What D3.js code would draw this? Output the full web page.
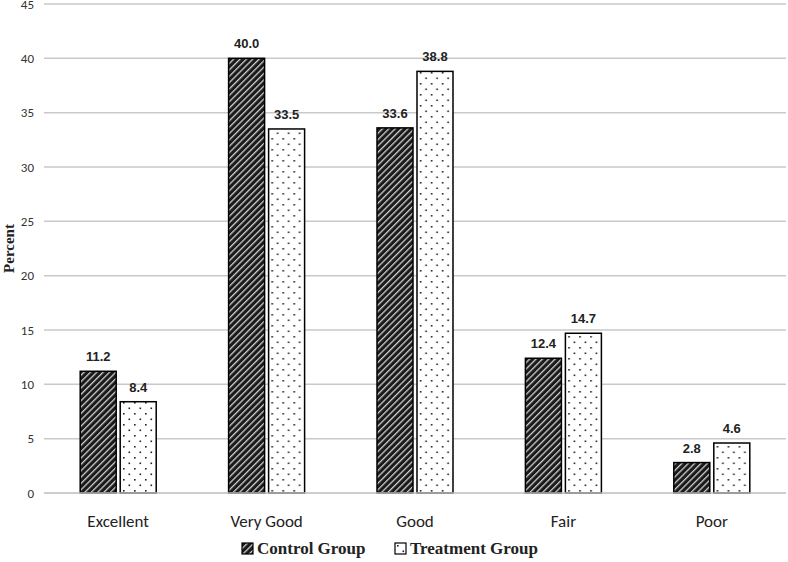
<!DOCTYPE html>
<html>
<head>
<meta charset="utf-8">
<title>Self-rated health</title>
<script src="https://cdn.jsdelivr.net/npm/d3@7"></script>
<style>
  body { margin: 0; background: #fff; }
</style>
</head>
<body>
<div id="chart"></div>
<script>
// data
var categories = ["Excellent", "Very Good", "Good", "Fair", "Poor"];
var groups = ["Control Group", "Treatment Group"];
var controlValues = [11.2, 40.0, 33.6, 12.4, 2.8];
var treatmentValues = [8.4, 33.5, 38.8, 14.7, 4.6];
var yTicks = [0, 5, 10, 15, 20, 25, 30, 35, 40, 45];

var W = 788, H = 562;
var margin = { top: 4, right: 2, bottom: 69, left: 44 };
var width = W - margin.left - margin.right;
var height = H - margin.top - margin.bottom;

var svg = d3.select("#chart").append("svg")
  .attr("width", W).attr("height", H);

// patterns
var defs = svg.append("defs");
var hatch = defs.append("pattern")
  .attr("id", "hatch").attr("patternUnits", "userSpaceOnUse")
  .attr("width", 4.5).attr("height", 4.5)
  .attr("patternTransform", "rotate(45)");
hatch.append("rect").attr("width", 4.5).attr("height", 4.5).attr("fill", "#1a1a1a");
hatch.append("rect").attr("x", 0).attr("width", 1.3).attr("height", 4.5).attr("fill", "#d0d0d0");

var dots = defs.append("pattern")
  .attr("id", "dots").attr("patternUnits", "userSpaceOnUse")
  .attr("width", 11).attr("height", 11);
dots.append("rect").attr("width", 11).attr("height", 11).attr("fill", "#fff");
dots.append("rect").attr("x", 2).attr("y", 2).attr("width", 1.6).attr("height", 1.6).attr("fill", "#222");
dots.append("rect").attr("x", 7.5).attr("y", 7.5).attr("width", 1.6).attr("height", 1.6).attr("fill", "#222");

var g = svg.append("g")
  .attr("transform", "translate(" + margin.left + "," + margin.top + ")");

var x = d3.scaleBand().domain(categories).range([0, width]);
var xInner = d3.scaleBand().domain(groups).range([x.bandwidth() / 2 - 38, x.bandwidth() / 2 + 38]).paddingInner(0.1);
var y = d3.scaleLinear().domain([0, 45]).range([height, 0]);

// gridlines
g.append("g").selectAll("line")
  .data(yTicks.slice(1))
  .enter().append("line")
  .attr("x1", 0).attr("x2", width)
  .attr("y1", function (d) { return y(d); })
  .attr("y2", function (d) { return y(d); })
  .attr("stroke", "#c9c9c9").attr("stroke-width", 1.5);

// y tick labels
g.append("g").selectAll("text")
  .data(yTicks)
  .enter().append("text")
  .attr("x", -10)
  .attr("y", function (d) { return y(d); })
  .attr("dy", "0.35em")
  .attr("text-anchor", "end")
  .attr("font-family", "Carlito, 'Open Sans', sans-serif")
  .attr("font-size", 13)
  .attr("fill", "#333")
  .text(function (d) { return d; });

// bars
var rows = categories.map(function (c, i) {
  return { cat: c, vals: [
    { group: groups[0], v: controlValues[i], fill: "url(#hatch)" },
    { group: groups[1], v: treatmentValues[i], fill: "url(#dots)" }
  ] };
});

var cat = g.selectAll(".cat")
  .data(rows)
  .enter().append("g")
  .attr("class", "cat")
  .attr("transform", function (d) { return "translate(" + x(d.cat) + ",0)"; });

cat.selectAll("rect")
  .data(function (d) { return d.vals; })
  .enter().append("rect")
  .attr("x", function (d) { return xInner(d.group); })
  .attr("y", function (d) { return y(d.v); })
  .attr("width", xInner.bandwidth())
  .attr("height", function (d) { return height - y(d.v); })
  .attr("fill", function (d) { return d.fill; })
  .attr("stroke", "#000").attr("stroke-width", 1.5);

cat.selectAll(".val")
  .data(function (d) { return d.vals; })
  .enter().append("text")
  .attr("class", "val")
  .attr("x", function (d) { return xInner(d.group) + xInner.bandwidth() / 2; })
  .attr("y", function (d) { return y(d.v) - 10; })
  .attr("text-anchor", "middle")
  .attr("font-family", "Liberation Sans, Arial, sans-serif")
  .attr("font-weight", "bold")
  .attr("font-size", 13)
  .attr("fill", "#222")
  .text(function (d) { return d.v.toFixed(1); });

// baseline
g.append("line")
  .attr("x1", 0).attr("x2", width)
  .attr("y1", height).attr("y2", height)
  .attr("stroke", "#bdbdbd").attr("stroke-width", 1.5);

// category labels
g.append("g").selectAll("text")
  .data(categories)
  .enter().append("text")
  .attr("x", function (d) { return x(d) + x.bandwidth() / 2; })
  .attr("y", height + 34)
  .attr("text-anchor", "middle")
  .attr("font-family", "Carlito, 'Open Sans', sans-serif")
  .attr("font-size", 17)
  .attr("fill", "#222")
  .text(function (d) { return d; });

// y axis title
svg.append("text")
  .attr("transform", "translate(14," + (margin.top + height / 2) + ") rotate(-90)")
  .attr("text-anchor", "middle")
  .attr("font-family", "'Liberation Serif', 'DejaVu Serif', serif")
  .attr("font-weight", "bold")
  .attr("font-size", 15)
  .attr("fill", "#222")
  .text("Percent");

// legend
var legend = svg.append("g").attr("transform", "translate(242,554)");
var legItems = [
  { label: groups[0], fill: "url(#hatch)", x: 0 },
  { label: groups[1], fill: "url(#dots)", x: 153 }
];
var li = legend.selectAll("g").data(legItems).enter().append("g")
  .attr("transform", function (d) { return "translate(" + d.x + ",0)"; });
li.append("rect")
  .attr("x", 0).attr("y", -11).attr("width", 11).attr("height", 11)
  .attr("fill", function (d) { return d.fill; })
  .attr("stroke", "#000").attr("stroke-width", 1.2);
li.append("text")
  .attr("x", 15).attr("y", 0)
  .attr("font-family", "'Liberation Serif', 'DejaVu Serif', serif")
  .attr("font-weight", "bold")
  .attr("font-size", 17)
  .attr("fill", "#222")
  .text(function (d) { return d.label; });
</script>
</body>
</html>
